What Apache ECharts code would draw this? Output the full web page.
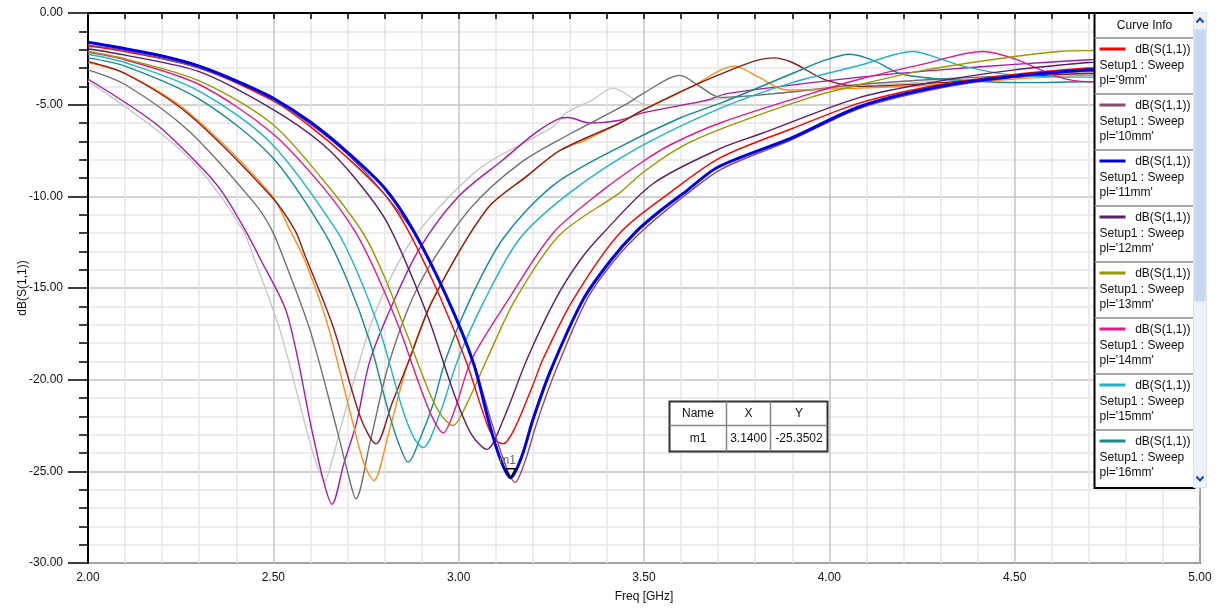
<!DOCTYPE html>
<html>
<head>
<meta charset="utf-8">
<script src="https://cdn.jsdelivr.net/npm/echarts@6/dist/echarts.min.js"></script>
<style>
  html, body { margin: 0; padding: 0; background: #fff; }
  #main { width: 1221px; height: 610px; }
</style>
</head>
<body>
<div id="main"></div>
<script>
// S11 sweep over pl, [freq GHz, dB]
var pl9  = [[2.0,-1.8],[2.1,-2.1],[2.3,-3.0],[2.5,-4.8],[2.6,-6.2],[2.7,-7.9],[2.8,-9.9],[2.863,-11.84],[2.95,-15.5],[3.022,-19.1],[3.076,-22.4],[3.1,-23.3],[3.12,-23.5],[3.15,-22.7],[3.2,-20.3],[3.227,-18.9],[3.308,-15.66],[3.435,-12.0],[3.57,-9.8],[3.705,-7.9],[3.9,-6.3],[4.083,-4.9],[4.3,-3.9],[4.5,-3.35],[4.7,-3.0],[4.76,-2.95]];
var pl10 = [[2.0,-1.75],[2.1,-2.05],[2.3,-3.0],[2.5,-4.75],[2.7,-7.7],[2.877,-11.9],[2.968,-15.5],[3.04,-19.1],[3.09,-22.4],[3.12,-24.3],[3.152,-25.6],[3.18,-24.4],[3.21,-22.4],[3.26,-19.6],[3.345,-15.66],[3.42,-13.5],[3.5,-11.8],[3.62,-9.8],[3.71,-8.5],[3.9,-6.9],[4.083,-5.2],[4.3,-4.1],[4.5,-3.5],[4.7,-3.15],[4.76,-3.1]];
var pl11 = [[2.0,-1.6],[2.1,-1.95],[2.2,-2.35],[2.3,-2.9],[2.4,-3.7],[2.5,-4.65],[2.6,-5.95],[2.7,-7.6],[2.8,-9.55],[2.877,-11.84],[2.968,-15.5],[3.04,-19.1],[3.08,-22.2],[3.11,-24.2],[3.14,-25.35],[3.17,-24.2],[3.2,-22.2],[3.246,-19.6],[3.335,-15.66],[3.41,-13.5],[3.48,-11.9],[3.543,-10.8],[3.615,-9.7],[3.7,-8.4],[3.9,-6.8],[4.083,-5.1],[4.3,-4.0],[4.5,-3.45],[4.7,-3.1],[4.76,-3.05]];
var pl12 = [[2.0,-1.95],[2.1,-2.3],[2.3,-3.2],[2.494,-5.2],[2.63,-7.1],[2.72,-9.0],[2.809,-11.5],[2.914,-16.4],[2.99,-20.9],[3.035,-23.0],[3.076,-23.8],[3.12,-22.2],[3.184,-18.9],[3.26,-15.66],[3.327,-13.5],[3.39,-12.0],[3.525,-9.3],[3.705,-7.4],[3.813,-6.6],[4.083,-4.6],[4.3,-3.7],[4.5,-3.1],[4.7,-2.7],[4.76,-2.65]];
var pl13 = [[2.0,-2.1],[2.1,-2.5],[2.3,-3.7],[2.494,-6.0],[2.63,-9.0],[2.742,-12.0],[2.8,-14.4],[2.86,-17.5],[2.923,-20.8],[2.955,-22.0],[2.985,-22.5],[3.02,-21.4],[3.076,-18.9],[3.152,-15.66],[3.273,-12.1],[3.435,-9.8],[3.497,-8.7],[3.6,-7.3],[3.724,-6.2],[3.95,-4.6],[4.083,-3.9],[4.26,-3.1],[4.49,-2.4],[4.62,-2.1],[4.7,-2.05],[4.76,-2.05]];
var pl14 = [[2.0,-2.15],[2.1,-2.55],[2.3,-3.9],[2.494,-6.5],[2.63,-9.4],[2.72,-11.9],[2.78,-14.3],[2.84,-17.2],[2.896,-20.4],[2.93,-22.1],[2.958,-22.9],[2.99,-21.6],[3.035,-18.9],[3.133,-15.66],[3.255,-12.0],[3.39,-9.65],[3.497,-8.1],[3.57,-7.2],[3.705,-6.0],[3.95,-4.4],[4.083,-3.6],[4.25,-2.8],[4.414,-2.1],[4.5,-2.5],[4.62,-3.5],[4.7,-3.75],[4.76,-3.75]];
var pl15 = [[2.0,-2.25],[2.1,-2.7],[2.3,-4.26],[2.494,-7.1],[2.67,-11.84],[2.73,-14.3],[2.79,-17.5],[2.85,-21.7],[2.88,-23.2],[2.904,-23.7],[2.95,-21.8],[2.998,-18.9],[3.07,-15.66],[3.165,-12.3],[3.3,-9.8],[3.48,-7.4],[3.705,-5.2],[3.9,-3.8],[4.083,-2.85],[4.225,-2.1],[4.3,-2.5],[4.36,-2.9],[4.5,-3.4],[4.7,-3.5],[4.76,-3.5]];
var pl16 = [[2.0,-2.45],[2.1,-2.9],[2.3,-4.7],[2.494,-7.8],[2.634,-11.84],[2.7,-14.6],[2.76,-17.9],[2.806,-21.4],[2.835,-23.3],[2.864,-24.5],[2.9,-23.0],[2.93,-21.4],[2.965,-18.9],[3.03,-15.66],[3.12,-12.3],[3.255,-9.4],[3.435,-7.3],[3.6,-5.7],[3.715,-4.85],[3.9,-3.3],[3.99,-2.56],[4.055,-2.25],[4.12,-2.6],[4.19,-3.3],[4.3,-3.6],[4.53,-3.8],[4.7,-3.75],[4.76,-3.75]];
var pl17 = [[2.0,-2.65],[2.1,-3.3],[2.27,-5.5],[2.494,-10.0],[2.558,-11.84],[2.585,-13.2],[2.661,-17.1],[2.736,-22.1],[2.777,-23.5],[2.82,-21.3],[2.867,-18.9],[2.93,-15.66],[3.076,-10.7],[3.184,-8.9],[3.273,-7.5],[3.435,-6.0],[3.497,-5.3],[3.63,-4.0],[3.76,-2.9],[3.81,-2.56],[3.85,-2.45],[3.9,-2.7],[3.99,-3.65],[4.083,-4.0],[4.3,-3.8],[4.5,-3.5],[4.7,-3.3],[4.76,-3.3]];
var pl18 = [[2.0,-2.7],[2.1,-3.3],[2.27,-5.4],[2.494,-9.9],[2.545,-11.84],[2.585,-13.5],[2.645,-16.9],[2.715,-22.4],[2.745,-24.6],[2.771,-25.5],[2.81,-23.0],[2.86,-19.3],[2.93,-15.66],[3.076,-10.7],[3.184,-8.9],[3.273,-7.5],[3.346,-6.9],[3.435,-6.0],[3.497,-5.3],[3.57,-4.6],[3.63,-4.0],[3.745,-2.9],[3.81,-3.5],[3.885,-4.2],[4.083,-4.1],[4.3,-3.9],[4.5,-3.6],[4.7,-3.4],[4.76,-3.4]];
var pl19 = [[2.0,-3.1],[2.1,-3.9],[2.27,-6.4],[2.45,-10.4],[2.496,-11.84],[2.53,-13.5],[2.599,-17.3],[2.67,-22.6],[2.7,-25.0],[2.723,-26.5],[2.76,-23.5],[2.815,-18.9],[2.896,-14.7],[3.03,-10.7],[3.165,-8.2],[3.3,-6.6],[3.45,-5.0],[3.497,-4.4],[3.597,-3.4],[3.65,-4.0],[3.705,-4.6],[3.85,-4.4],[4.083,-3.9],[4.3,-3.6],[4.5,-3.4],[4.7,-3.2],[4.76,-3.2]];
var pl20 = [[2.0,-3.6],[2.18,-6.0],[2.3,-8.3],[2.36,-9.7],[2.424,-11.84],[2.467,-13.5],[2.537,-16.4],[2.604,-22.75],[2.635,-25.5],[2.658,-26.8],[2.69,-24.6],[2.725,-22.3],[2.76,-19.0],[2.823,-15.8],[2.896,-12.8],[3.0,-10.0],[3.12,-8.0],[3.21,-6.5],[3.273,-5.75],[3.295,-5.7],[3.354,-6.0],[3.435,-5.85],[3.497,-5.45],[3.67,-4.75],[3.724,-4.4],[4.083,-3.5],[4.3,-3.1],[4.5,-2.8],[4.7,-2.55],[4.76,-2.5]];
var pl21 = [[2.0,-3.7],[2.18,-6.3],[2.3,-8.5],[2.418,-11.84],[2.45,-13.5],[2.518,-17.3],[2.59,-22.75],[2.615,-24.5],[2.639,-25.5],[2.66,-24.3],[2.68,-22.75],[2.734,-18.9],[2.77,-16.6],[2.82,-14.3],[2.877,-12.3],[2.985,-9.8],[3.076,-8.2],[3.255,-6.2],[3.29,-5.45],[3.36,-4.75],[3.416,-4.1],[3.508,-5.0],[3.6,-5.0],[3.7,-4.7],[4.083,-4.0],[4.3,-3.7],[4.5,-3.5],[4.7,-3.3],[4.76,-3.3]];

var curveData   = [pl21, pl20, pl19, pl18, pl17, pl16, pl15, pl14, pl13, pl12, pl9, pl10, pl11];
var curveLabels = ["21mm", "20mm", "19mm", "18mm", "17mm", "16mm", "15mm", "14mm", "13mm", "12mm", "9mm", "10mm", "11mm"];
var curveColors = ['#c8c8c8', '#a21ca8', '#707070', '#ff8c1a', '#8b1c1c', '#168c8c', '#1fb5c9', '#e21a8c', '#999900', '#5b1e68', '#ff0000', '#8b4c70', '#0000e0'];

// legend (only the 8 rows the scroll box shows)
var legendLabels = ["9mm", "10mm", "11mm", "12mm", "13mm", "14mm", "15mm", "16mm"];
var legendColors = ['#ff0000', '#8b4c70', '#0000e0', '#5b1e68', '#999900', '#e21a8c', '#1fb5c9', '#168c8c'];

var markerName = 'm1';
var markerX = 3.14;
var markerY = -25.3502;

var FONT = '12px "Liberation Sans", Arial, sans-serif';

var series = curveData.map(function (d, i) {
  return {
    name: "pl='" + curveLabels[i] + "'",
    type: 'line',
    data: d,
    showSymbol: false,
    smooth: 0.3,
    lineStyle: { color: curveColors[i], width: curveLabels[i] === '11mm' ? 3 : 1.4 },
    itemStyle: { color: curveColors[i] },
    z: 2 + i
  };
});

// marker m1 (downward triangle, tip on the point)
series.push({
  type: 'scatter',
  data: [[markerX, markerY]],
  symbol: 'path://M0,0 L10,0 L5,9 Z',
  symbolSize: [10, 9],
  symbolOffset: [0, -4.5],
  itemStyle: { color: 'rgba(255,255,255,0.35)', borderColor: '#000', borderWidth: 1.4, opacity: 1 },
  label: { show: true, formatter: markerName, position: 'top', distance: 1, offset: [-3, 0], color: '#666', fontSize: 12 },
  z: 40
});

function onTop(list) {
  list.forEach(function (el) { el.z = 100; });
  return list;
}

// legend box drawn on top of the plot
var legendChildren = [
  { type: 'rect', shape: { x: 0, y: 0, width: 100, height: 475 }, style: { fill: '#fff', stroke: '#000', lineWidth: 2 } },
  { type: 'line', shape: { x1: 0, y1: 25, x2: 100, y2: 25 }, style: { stroke: '#888', lineWidth: 1.5 } },
  { type: 'text', style: { text: 'Curve Info', x: 50, y: 13, textAlign: 'center', textVerticalAlign: 'middle', font: FONT, fill: '#111' } }
];
legendLabels.forEach(function (lab, i) {
  var top = 25 + i * 56;
  if (i > 0) {
    legendChildren.push({ type: 'line', shape: { x1: 0, y1: top, x2: 100, y2: top }, style: { stroke: '#888', lineWidth: 1.5 } });
  }
  legendChildren.push(
    { type: 'line', shape: { x1: 5, y1: top + 11, x2: 31, y2: top + 11 }, style: { stroke: legendColors[i], lineWidth: 3 } },
    { type: 'text', style: { text: 'dB(S(1,1))', x: 96, y: top + 12, textAlign: 'right', textVerticalAlign: 'middle', font: FONT, fill: '#111' } },
    { type: 'text', style: { text: 'Setup1 : Sweep', x: 5, y: top + 28, textAlign: 'left', textVerticalAlign: 'middle', font: FONT, fill: '#111' } },
    { type: 'text', style: { text: "pl='" + lab + "'", x: 5, y: top + 43, textAlign: 'left', textVerticalAlign: 'middle', font: FONT, fill: '#111' } }
  );
});

var scrollChildren = [
  { type: 'rect', shape: { x: 0, y: 0, width: 13, height: 475 }, style: { fill: '#eef2f8', stroke: '#dde3ee' } },
  { type: 'rect', shape: { x: 1, y: 17, width: 11, height: 272 }, style: { fill: '#c6d7f0' } },
  { type: 'polyline', shape: { points: [[3, 10], [6.5, 6], [10, 10]] }, style: { stroke: '#2244bb', lineWidth: 2, fill: null } },
  { type: 'polyline', shape: { points: [[3, 464], [6.5, 468], [10, 464]] }, style: { stroke: '#2244bb', lineWidth: 2, fill: null } }
];

var tableChildren = [
  { type: 'rect', shape: { x: 0, y: 0, width: 158, height: 50 }, style: { fill: '#fff', stroke: '#333', lineWidth: 2 } },
  { type: 'line', shape: { x1: 0, y1: 24, x2: 158, y2: 24 }, style: { stroke: '#888', lineWidth: 1.5 } },
  { type: 'line', shape: { x1: 57, y1: 0, x2: 57, y2: 50 }, style: { stroke: '#888', lineWidth: 1.5 } },
  { type: 'line', shape: { x1: 101, y1: 0, x2: 101, y2: 50 }, style: { stroke: '#888', lineWidth: 1.5 } },
  { type: 'text', style: { text: 'Name', x: 28.5, y: 12, textAlign: 'center', textVerticalAlign: 'middle', font: FONT, fill: '#111' } },
  { type: 'text', style: { text: 'X', x: 79, y: 12, textAlign: 'center', textVerticalAlign: 'middle', font: FONT, fill: '#111' } },
  { type: 'text', style: { text: 'Y', x: 129.5, y: 12, textAlign: 'center', textVerticalAlign: 'middle', font: FONT, fill: '#111' } },
  { type: 'text', style: { text: markerName, x: 28.5, y: 37, textAlign: 'center', textVerticalAlign: 'middle', font: FONT, fill: '#111' } },
  { type: 'text', style: { text: markerX.toFixed(4), x: 79, y: 37, textAlign: 'center', textVerticalAlign: 'middle', font: FONT, fill: '#111' } },
  { type: 'text', style: { text: markerY.toFixed(4), x: 129.5, y: 37, textAlign: 'center', textVerticalAlign: 'middle', font: FONT, fill: '#111' } }
];

var myChart = echarts.init(document.getElementById('main'));
myChart.setOption({
  animation: false,
  backgroundColor: '#fff',
  textStyle: { fontFamily: '"Liberation Sans", Arial, sans-serif' },
  grid: { left: 88, right: 21, top: 13, bottom: 47, show: true, borderColor: '#000', borderWidth: 1.5 },
  xAxis: {
    type: 'value', min: 2, max: 5, interval: 0.5,
    name: 'Freq [GHz]', nameLocation: 'middle', nameGap: 28, nameMoveOverlap: false,
    nameTextStyle: { color: '#111', fontSize: 12 },
    axisLine: { lineStyle: { color: '#000', width: 2 } },
    axisTick: { show: true, length: 6, lineStyle: { color: '#000', width: 1.5 } },
    minorTick: { show: true, splitNumber: 5, length: 6, lineStyle: { color: '#000', width: 1.5 } },
    axisLabel: { color: '#111', fontSize: 12, margin: 9, formatter: function (v) { return v.toFixed(2); } },
    splitLine: { show: true, lineStyle: { color: '#c4c4c4', width: 1.5 } },
    minorSplitLine: { show: true, lineStyle: { color: '#e6e6e6', width: 1.5 } }
  },
  yAxis: {
    type: 'value', min: -30, max: 0, interval: 5,
    name: 'dB(S(1,1))', nameLocation: 'middle', nameGap: 59, nameRotate: 90, nameMoveOverlap: false,
    nameTextStyle: { color: '#111', fontSize: 12 },
    axisLine: { lineStyle: { color: '#000', width: 2 } },
    axisTick: { show: true, length: 20, lineStyle: { color: '#000', width: 1.5 } },
    minorTick: { show: true, splitNumber: 5, length: 9, lineStyle: { color: '#000', width: 1.5 } },
    axisLabel: { color: '#111', fontSize: 12, margin: 25, formatter: function (v) { return v.toFixed(2); } },
    splitLine: { show: true, lineStyle: { color: '#c4c4c4', width: 1.5 } },
    minorSplitLine: { show: true, lineStyle: { color: '#e6e6e6', width: 1.5 } }
  },
  series: series,
  graphic: [
    { type: 'group', left: 1092, top: 12, z: 100, children: onTop(legendChildren) },
    { type: 'group', left: 1193, top: 12, z: 100, children: onTop(scrollChildren) },
    { type: 'group', left: 667, top: 399, z: 100, children: onTop(tableChildren) }
  ]
});
</script>
</body>
</html>
